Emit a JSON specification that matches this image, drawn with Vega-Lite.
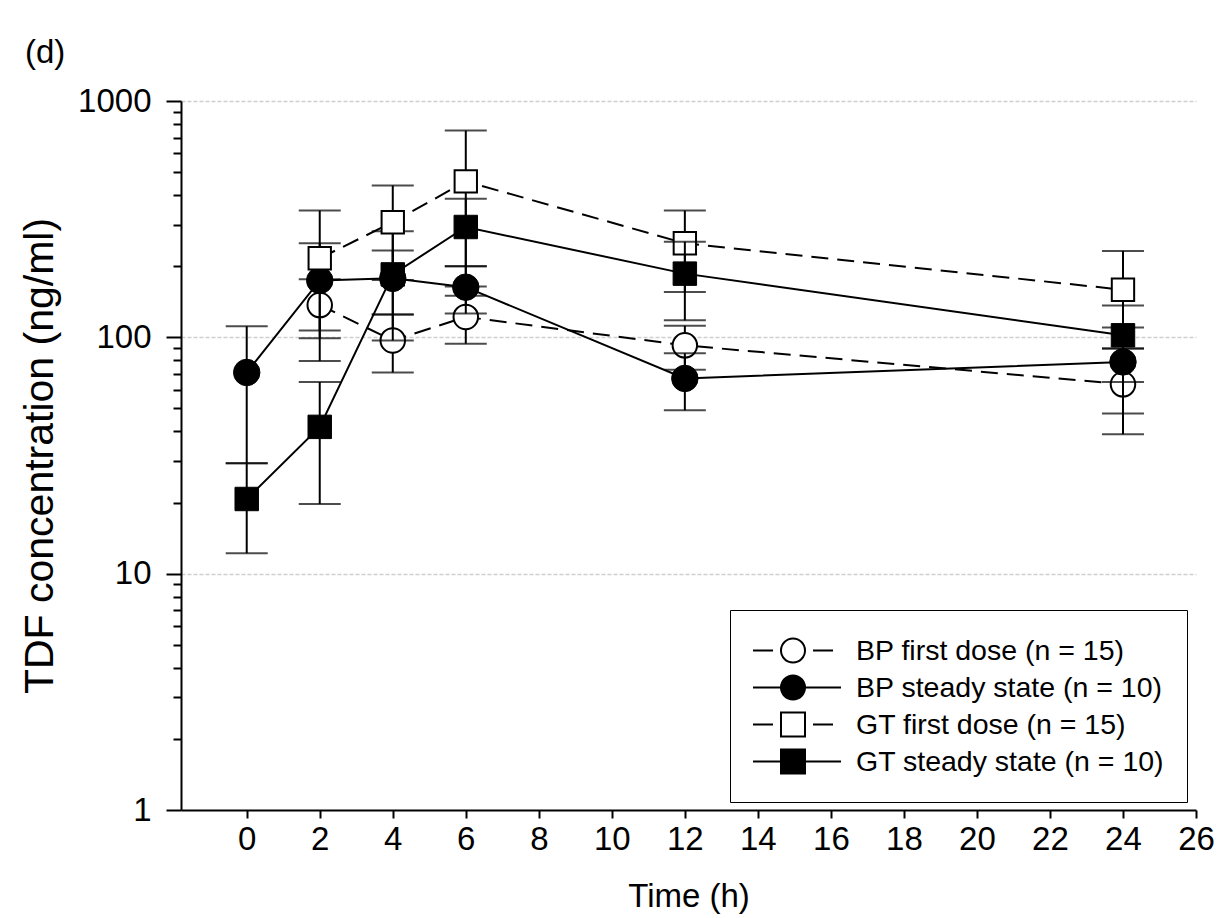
{
  "$schema": "https://vega.github.io/schema/vega-lite/v6.json",
  "autosize": {"type": "none"},
  "padding": {"left": 181, "top": 101, "right": 23, "bottom": 108},
  "width": 1015,
  "height": 709,
  "background": "white",
  "config": {
    "view": {"stroke": null}
  },
  "title": {"text": "(d)", "anchor": "start", "frame": "group", "font": "Liberation Sans", "fontSize": 33, "fontWeight": "normal", "color": "black", "baseline": "alphabetic", "dx": -156, "offset": -11},
  "data": {"values": [
    {"s": "BP first dose (n = 15)", "t": 2, "v": 137, "lo": 107, "hi": 176},
    {"s": "BP first dose (n = 15)", "t": 4, "v": 97, "lo": 71, "hi": 125},
    {"s": "BP first dose (n = 15)", "t": 6, "v": 122, "lo": 94, "hi": 150},
    {"s": "BP first dose (n = 15)", "t": 12, "v": 92.5, "lo": 73, "hi": 112},
    {"s": "BP first dose (n = 15)", "t": 24, "v": 63.3, "lo": 38.9, "hi": 89.6},
    {"s": "BP steady state (n = 10)", "t": 0, "v": 71, "lo": 29.3, "hi": 111.4},
    {"s": "BP steady state (n = 10)", "t": 2, "v": 174, "lo": 99, "hi": 250},
    {"s": "BP steady state (n = 10)", "t": 4, "v": 177.7, "lo": 97, "hi": 281},
    {"s": "BP steady state (n = 10)", "t": 6, "v": 163, "lo": 126, "hi": 200},
    {"s": "BP steady state (n = 10)", "t": 12, "v": 67, "lo": 49.1, "hi": 85.6},
    {"s": "BP steady state (n = 10)", "t": 24, "v": 78.7, "lo": 47.6, "hi": 110},
    {"s": "GT first dose (n = 15)", "t": 2, "v": 216, "lo": 79.4, "hi": 344},
    {"s": "GT first dose (n = 15)", "t": 4, "v": 307, "lo": 175, "hi": 439},
    {"s": "GT first dose (n = 15)", "t": 6, "v": 457, "lo": 164, "hi": 750},
    {"s": "GT first dose (n = 15)", "t": 12, "v": 250, "lo": 155.5, "hi": 344},
    {"s": "GT first dose (n = 15)", "t": 24, "v": 159, "lo": 89.6, "hi": 232},
    {"s": "GT steady state (n = 10)", "t": 0, "v": 20.7, "lo": 12.2, "hi": 29.3},
    {"s": "GT steady state (n = 10)", "t": 2, "v": 41.8, "lo": 19.7, "hi": 64.7},
    {"s": "GT steady state (n = 10)", "t": 4, "v": 184.6, "lo": 125, "hi": 233},
    {"s": "GT steady state (n = 10)", "t": 6, "v": 293, "lo": 200, "hi": 386},
    {"s": "GT steady state (n = 10)", "t": 12, "v": 186, "lo": 118, "hi": 254},
    {"s": "GT steady state (n = 10)", "t": 24, "v": 102, "lo": 64.7, "hi": 136.5}
  ]},
  "encoding": {
    "x": {"field": "t", "type": "quantitative", "scale": {"domain": [-1.8, 26], "nice": false, "zero": false},
      "axis": {"title": "Time (h)", "values": [0, 2, 4, 6, 8, 10, 12, 14, 16, 18, 20, 22, 24, 26], "grid": false, "labelFont": "Liberation Sans", "labelFontSize": 33, "labelColor": "black", "labelPadding": 5, "labelOverlap": false, "labelFlush": false, "tickSize": 8, "tickWidth": 2, "tickColor": "black", "domainColor": "black", "domainWidth": 2, "titleFont": "Liberation Sans", "titleFontSize": 33, "titleFontWeight": "normal", "titleColor": "black", "titlePadding": 24}},
    "y": {"field": "v", "type": "quantitative", "scale": {"type": "log", "domain": [1, 1000], "nice": false},
      "axis": {"title": "TDF concentration (ng/ml)", "values": [1, 2, 3, 4, 5, 6, 7, 8, 9, 10, 20, 30, 40, 50, 60, 70, 80, 90, 100, 200, 300, 400, 500, 600, 700, 800, 900, 1000], "format": "d", "labelExpr": "(datum.value==1||datum.value==10||datum.value==100||datum.value==1000)?datum.label:''", "labelOverlap": false, "labelFlush": false, "tickSize": {"condition": {"test": "datum.value==1||datum.value==10||datum.value==100||datum.value==1000", "value": 15}, "value": 8}, "grid": true, "gridOpacity": {"condition": {"test": "datum.value==10||datum.value==100||datum.value==1000", "value": 1}, "value": 0}, "gridColor": "#cfcfcf", "gridDash": [4, 2], "gridWidth": 1.5, "labelFont": "Liberation Sans", "labelFontSize": 33, "labelColor": "black", "labelPadding": 15, "tickColor": "black", "tickWidth": 2, "domainColor": "black", "domainWidth": 2, "titleFont": "Liberation Sans", "titleFontSize": 41, "titleFontWeight": "normal", "titleColor": "black", "titlePadding": 16}}
  },
  "layer": [
    {"transform": [{"filter": {"field": "s", "equal": "BP first dose (n = 15)"}}],
     "mark": {"type": "errorbar", "ticks": true, "size": 42, "thickness": 2, "color": "black"},
     "encoding": {"y": {"field": "lo", "type": "quantitative", "scale": {"type": "log", "domain": [1, 1000], "nice": false}, "title": "TDF concentration (ng/ml)"}, "y2": {"field": "hi"}}},
    {"transform": [{"filter": {"field": "s", "equal": "BP first dose (n = 15)"}}],
     "mark": {"type": "line", "color": "black", "strokeWidth": 2, "strokeDash": [17, 9]}},
    {"transform": [{"filter": {"field": "s", "equal": "BP first dose (n = 15)"}}],
     "mark": {"type": "point", "shape": "circle", "filled": true, "fill": "white", "stroke": "black", "strokeWidth": 2, "size": 600, "opacity": 1}},

    {"transform": [{"filter": {"field": "s", "equal": "BP steady state (n = 10)"}}],
     "mark": {"type": "errorbar", "ticks": true, "size": 42, "thickness": 2, "color": "black"},
     "encoding": {"y": {"field": "lo", "type": "quantitative", "scale": {"type": "log", "domain": [1, 1000], "nice": false}, "title": "TDF concentration (ng/ml)"}, "y2": {"field": "hi"}}},
    {"transform": [{"filter": {"field": "s", "equal": "BP steady state (n = 10)"}}],
     "mark": {"type": "line", "color": "black", "strokeWidth": 2}},
    {"transform": [{"filter": {"field": "s", "equal": "BP steady state (n = 10)"}}],
     "mark": {"type": "point", "shape": "circle", "filled": true, "fill": "black", "stroke": "black", "strokeWidth": 1, "size": 700, "opacity": 1}},

    {"transform": [{"filter": {"field": "s", "equal": "GT first dose (n = 15)"}}],
     "mark": {"type": "errorbar", "ticks": true, "size": 42, "thickness": 2, "color": "black"},
     "encoding": {"y": {"field": "lo", "type": "quantitative", "scale": {"type": "log", "domain": [1, 1000], "nice": false}, "title": "TDF concentration (ng/ml)"}, "y2": {"field": "hi"}}},
    {"transform": [{"filter": {"field": "s", "equal": "GT first dose (n = 15)"}}],
     "mark": {"type": "line", "color": "black", "strokeWidth": 2, "strokeDash": [17, 9]}},
    {"transform": [{"filter": {"field": "s", "equal": "GT first dose (n = 15)"}}],
     "mark": {"type": "point", "shape": "square", "filled": true, "fill": "white", "stroke": "black", "strokeWidth": 2, "size": 500, "opacity": 1}},

    {"transform": [{"filter": {"field": "s", "equal": "GT steady state (n = 10)"}}],
     "mark": {"type": "errorbar", "ticks": true, "size": 42, "thickness": 2, "color": "black"},
     "encoding": {"y": {"field": "lo", "type": "quantitative", "scale": {"type": "log", "domain": [1, 1000], "nice": false}, "title": "TDF concentration (ng/ml)"}, "y2": {"field": "hi"}}},
    {"transform": [{"filter": {"field": "s", "equal": "GT steady state (n = 10)"}}],
     "mark": {"type": "line", "color": "black", "strokeWidth": 2}},
    {"transform": [{"filter": {"field": "s", "equal": "GT steady state (n = 10)"}}],
     "mark": {"type": "point", "shape": "square", "filled": true, "fill": "black", "stroke": "black", "strokeWidth": 1, "size": 550, "opacity": 1}},

    {"transform": [{"filter": {"field": "t", "equal": 24}}],
     "mark": {"type": "point", "filled": true, "opacity": 0, "strokeWidth": 2, "size": 6400},
     "encoding": {
       "shape": {"field": "s", "type": "nominal",
         "scale": {"domain": ["BP first dose (n = 15)", "BP steady state (n = 10)", "GT first dose (n = 15)", "GT steady state (n = 10)"],
           "range": ["M-1,0H-0.5M0.5,0H1M-0.3,0A0.3,0.3 0 1,0 0.3,0A0.3,0.3 0 1,0 -0.3,0Z", "M-1,0H1.2M-0.3,0A0.3,0.3 0 1,0 0.3,0A0.3,0.3 0 1,0 -0.3,0Z", "M-1,0H-0.5M0.5,0H1M-0.3,-0.3H0.3V0.3H-0.3Z", "M-1,0H1.2M-0.3,-0.3H0.3V0.3H-0.3Z"]},
         "legend": {"title": null, "orient": "none", "legendX": 549, "legendY": 509, "strokeColor": "black", "fillColor": "white", "padding": 22, "symbolSize": 6400, "symbolOpacity": 1, "symbolStrokeWidth": 2, "clipHeight": 37, "rowPadding": 0, "labelOffset": 22, "labelFont": "Liberation Sans", "labelFontSize": 28.5, "labelColor": "black", "labelLimit": 600}},
       "fill": {"field": "s", "type": "nominal",
         "scale": {"domain": ["BP first dose (n = 15)", "BP steady state (n = 10)", "GT first dose (n = 15)", "GT steady state (n = 10)"], "range": ["white", "black", "white", "black"]},
         "legend": {"title": null, "orient": "none", "legendX": 549, "legendY": 509, "strokeColor": "black", "fillColor": "white", "padding": 22, "symbolSize": 6400, "symbolOpacity": 1, "symbolStrokeWidth": 2, "clipHeight": 37, "rowPadding": 0, "labelOffset": 22, "labelFont": "Liberation Sans", "labelFontSize": 28.5, "labelColor": "black", "labelLimit": 600}},
       "stroke": {"field": "s", "type": "nominal",
         "scale": {"domain": ["BP first dose (n = 15)", "BP steady state (n = 10)", "GT first dose (n = 15)", "GT steady state (n = 10)"], "range": ["black", "black", "black", "black"]},
         "legend": {"title": null, "orient": "none", "legendX": 549, "legendY": 509, "strokeColor": "black", "fillColor": "white", "padding": 22, "symbolSize": 6400, "symbolOpacity": 1, "symbolStrokeWidth": 2, "clipHeight": 37, "rowPadding": 0, "labelOffset": 22, "labelFont": "Liberation Sans", "labelFontSize": 28.5, "labelColor": "black", "labelLimit": 600}}
     }}
  ]
}
